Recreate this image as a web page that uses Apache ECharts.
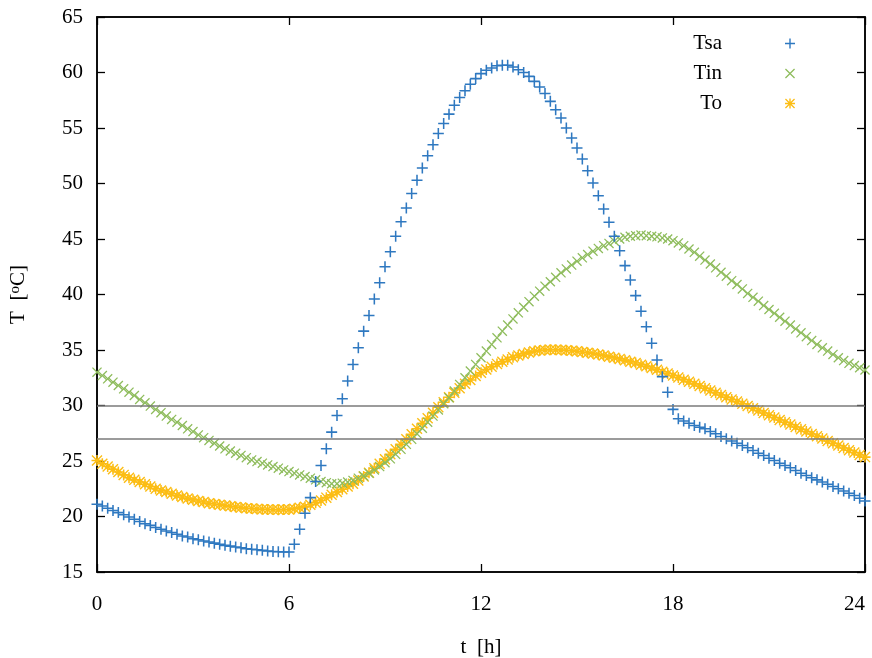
<!DOCTYPE html>
<html lang="en">
<head>
    <meta charset="UTF-8">
    <title>T vs t</title>
    <script src="https://cdn.jsdelivr.net/npm/echarts@6/dist/echarts.min.js"></script>
    <style>
        html, body { margin: 0; padding: 0; background: #fff; }
        #chart { width: 872px; height: 658px; }
    </style>
</head>
<body>
    <div id="chart"></div>
    <script>
        // sampling step of the data: 10 minutes
        const stepHours = 1 / 6;

        // one row per hour, 6 samples each, plus the value at 24 h
        const tsa = [
            21.1, 20.95, 20.75, 20.55, 20.35, 20.15,
            19.95, 19.75, 19.55, 19.35, 19.2, 19.0,
            18.85, 18.7, 18.55, 18.4, 18.25, 18.15,
            18.0, 17.9, 17.8, 17.7, 17.6, 17.5,
            17.4, 17.33, 17.25, 17.18, 17.1, 17.05,
            17.0, 16.95, 16.9, 16.85, 16.82, 16.8,
            16.8, 17.5, 18.85, 20.3, 21.7, 23.15,
            24.6, 26.1, 27.6, 29.1, 30.6, 32.2,
            33.7, 35.2, 36.7, 38.1, 39.6, 41.05,
            42.5, 43.85, 45.25, 46.55, 47.8, 49.1,
            50.3, 51.4, 52.5, 53.5, 54.5, 55.4,
            56.25, 57.05, 57.75, 58.35, 58.95, 59.45,
            59.9, 60.2, 60.4, 60.6, 60.65, 60.65,
            60.5, 60.25, 60.0, 59.65, 59.2, 58.7,
            58.1, 57.4, 56.65, 55.9, 55.0, 54.1,
            53.2, 52.2, 51.15, 50.05, 48.9, 47.7,
            46.5, 45.25, 43.95, 42.6, 41.3, 39.9,
            38.5, 37.1, 35.6, 34.1, 32.6, 31.2,
            29.65, 28.8, 28.6, 28.4, 28.2, 28.05,
            27.9, 27.65, 27.45, 27.2, 27.0, 26.8,
            26.6, 26.4, 26.2, 25.95, 25.7, 25.5,
            25.25, 25.05, 24.8, 24.6, 24.4, 24.15,
            23.9, 23.7, 23.5, 23.3, 23.1, 22.9,
            22.7, 22.5, 22.3, 22.1, 21.9, 21.65,
            21.4
        ];

        const tin = [
            33.0, 32.7, 32.4, 32.1, 31.8, 31.5,
            31.2, 30.9, 30.55, 30.25, 29.95, 29.65,
            29.35, 29.05, 28.75, 28.5, 28.2, 27.9,
            27.65, 27.35, 27.1, 26.85, 26.6, 26.35,
            26.1, 25.9, 25.7, 25.5, 25.3, 25.1,
            24.95, 24.8, 24.65, 24.5, 24.35, 24.2,
            24.05, 23.9, 23.75, 23.6, 23.45, 23.3,
            23.15, 23.05, 22.95, 22.95, 23.0, 23.1,
            23.25, 23.45, 23.65, 23.9, 24.2, 24.5,
            24.85, 25.2, 25.6, 26.05, 26.5, 26.95,
            27.45, 27.95, 28.5, 29.05, 29.6, 30.15,
            30.7, 31.3, 31.9, 32.5, 33.1, 33.7,
            34.3, 34.9, 35.5, 36.1, 36.7, 37.25,
            37.8, 38.35, 38.85, 39.35, 39.85, 40.3,
            40.75, 41.15, 41.55, 41.95, 42.3, 42.65,
            43.0, 43.3, 43.6, 43.9, 44.15, 44.4,
            44.6, 44.8, 45.0, 45.15, 45.25, 45.3,
            45.35, 45.3, 45.25, 45.2, 45.1, 45.0,
            44.85, 44.65, 44.4, 44.1, 43.8, 43.45,
            43.1, 42.75, 42.4, 42.0, 41.65, 41.25,
            40.9, 40.5, 40.1, 39.75, 39.4, 39.0,
            38.65, 38.3, 37.95, 37.6, 37.25, 36.9,
            36.55, 36.2, 35.85, 35.5, 35.2, 34.9,
            34.6, 34.3, 34.05, 33.8, 33.6, 33.4,
            33.2
        ];

        const tout = [
            25.05, 24.75, 24.5, 24.25, 24.0, 23.75,
            23.5, 23.3, 23.1, 22.9, 22.7, 22.5,
            22.35, 22.2, 22.05, 21.9, 21.75, 21.62,
            21.5, 21.4, 21.3, 21.2, 21.12, 21.05,
            20.98, 20.92, 20.86, 20.8, 20.75, 20.72,
            20.68, 20.65, 20.63, 20.62, 20.61, 20.62,
            20.64, 20.7, 20.78, 20.88, 21.05, 21.25,
            21.45, 21.7, 21.95, 22.2, 22.45, 22.7,
            22.95, 23.25, 23.6, 23.95, 24.35, 24.75,
            25.15, 25.6, 26.05, 26.5, 26.95, 27.4,
            27.9, 28.4, 28.85, 29.35, 29.85, 30.3,
            30.75, 31.15, 31.55, 31.95, 32.3, 32.65,
            32.95, 33.25, 33.5, 33.75, 33.95, 34.15,
            34.35, 34.5, 34.65, 34.78, 34.88, 34.95,
            35.0, 35.02, 35.02, 35.0, 34.97, 34.93,
            34.88, 34.82, 34.75, 34.68, 34.6, 34.5,
            34.4, 34.3, 34.2, 34.08, 33.95, 33.82,
            33.68, 33.53, 33.38, 33.22, 33.05, 32.88,
            32.7, 32.52, 32.33, 32.14, 31.95, 31.75,
            31.55, 31.35, 31.15, 30.95, 30.75, 30.55,
            30.35, 30.15, 29.95, 29.75, 29.54, 29.33,
            29.12, 28.91, 28.7, 28.49, 28.28, 28.07,
            27.86, 27.65, 27.44, 27.23, 27.02, 26.81,
            26.6, 26.39, 26.18, 25.97, 25.76, 25.55,
            25.35
        ];

        // horizontal reference lines
        const refLines = [30, 27];

        const seriesNames = ['Tsa', 'Tin', 'To'];
        const seriesColors = ['#2e78c0', '#8ebc5c', '#fcbd14'];

        // gnuplot-like point types, drawn as thin filled bars
        const plusPath = 'path://M4.3,0 L5.7,0 L5.7,10 L4.3,10 Z M0,4.3 L10,4.3 L10,5.7 L0,5.7 Z';
        const crossPath = 'path://M0.9,0 L10,9.1 L9.1,10 L0,0.9 Z M9.1,0 L10,0.9 L0.9,10 L0,9.1 Z';
        const starPath = plusPath + ' ' + crossPath.replace('path://', '');

        const fontFamily = '"Liberation Serif", "DejaVu Serif", serif';

        function toPoints(values) {
            return values.map((v, i) => [i * stepHours, v]);
        }

        const chart = echarts.init(document.getElementById('chart'));

        const axisCommon = {
            axisLine: { show: true, onZero: false, lineStyle: { color: '#000', width: 1.5 } },
            axisTick: { show: true, inside: true, length: 8, lineStyle: { color: '#000', width: 1.3 } },
            splitLine: { show: false }
        };

        const option = {
            backgroundColor: '#fff',
            animation: false,
            textStyle: { fontFamily: fontFamily },
            grid: {
                left: 97, right: 7, top: 17, bottom: 86,
                outerBoundsMode: 'none',
                containLabel: false,
                show: true, borderColor: '#000', borderWidth: 1.5
            },
            legend: {
                orient: 'vertical',
                right: 72,
                top: 28,
                align: 'right',
                itemWidth: 10,
                itemHeight: 10,
                itemGap: 9,
                formatter: '{n|{name}}',
                textStyle: {
                    fontFamily: fontFamily,
                    fontSize: 21,
                    color: '#000',
                    rich: {
                        n: { width: 110, align: 'right', padding: [0, 58, 0, 0], fontSize: 21, fontFamily: fontFamily }
                    }
                },
                data: seriesNames
            },
            xAxis: [
                Object.assign({
                    type: 'value', min: 0, max: 24, interval: 6,
                    name: 't  [h]', nameLocation: 'middle', nameGap: 65,
                    nameTextStyle: { fontSize: 21, color: '#000', fontFamily: fontFamily },
                    axisLabel: { color: '#000', fontSize: 21, margin: 22, fontFamily: fontFamily, alignMaxLabel: 'right' }
                }, axisCommon),
                Object.assign({
                    type: 'value', min: 0, max: 24, interval: 6, position: 'top',
                    axisLabel: { show: false }
                }, axisCommon)
            ],
            yAxis: [
                Object.assign({
                    type: 'value', min: 15, max: 65, interval: 5,
                    name: 'T  [{s|o}C]', nameLocation: 'middle', nameGap: 68,
                    nameTextStyle: {
                        fontSize: 21, color: '#000', fontFamily: fontFamily,
                        rich: { s: { fontSize: 15, verticalAlign: 'top', padding: [0, 0, 6, 0], fontFamily: fontFamily } }
                    },
                    axisLabel: { color: '#000', fontSize: 21, margin: 14, fontFamily: fontFamily }
                }, axisCommon),
                Object.assign({
                    type: 'value', min: 15, max: 65, interval: 5, position: 'right',
                    axisLabel: { show: false }
                }, axisCommon)
            ],
            series: [
                {
                    name: 'ref',
                    type: 'line',
                    data: [],
                    silent: true,
                    z: 1,
                    markLine: {
                        silent: true,
                        symbol: ['none', 'none'],
                        label: { show: false },
                        lineStyle: { color: '#7a7a7a', width: 1.5, type: 'solid' },
                        data: refLines.map(v => ({ yAxis: v }))
                    }
                },
                {
                    name: seriesNames[0],
                    type: 'scatter',
                    symbol: plusPath,
                    symbolSize: 11,
                    itemStyle: { color: seriesColors[0], opacity: 1 },
                    data: toPoints(tsa),
                    z: 4
                },
                {
                    name: seriesNames[1],
                    type: 'scatter',
                    symbol: crossPath,
                    symbolSize: 10,
                    itemStyle: { color: seriesColors[1], opacity: 1 },
                    data: toPoints(tin),
                    z: 3
                },
                {
                    name: seriesNames[2],
                    type: 'scatter',
                    symbol: starPath,
                    symbolSize: 11,
                    itemStyle: { color: seriesColors[2], opacity: 1 },
                    data: toPoints(tout),
                    z: 2
                }
            ]
        };

        chart.setOption(option);
    </script>
</body>
</html>
